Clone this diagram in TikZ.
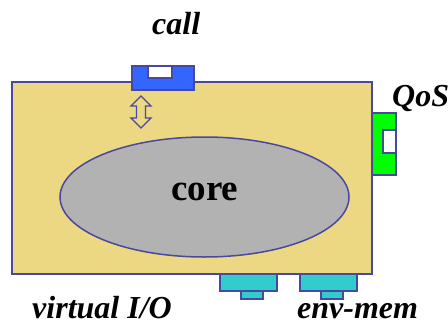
\documentclass[tikz,border=0pt]{standalone}
\usepackage{fontspec}
\setmainfont{Liberation Serif}
\definecolor{tan}{RGB}{236,216,130}
\definecolor{edge}{RGB}{72,72,160}
\definecolor{callblue}{RGB}{51,102,255}
\definecolor{qosgreen}{RGB}{0,255,0}
\definecolor{memcyan}{RGB}{51,204,204}
\definecolor{coregray}{RGB}{178,178,178}
\tikzset{
  part/.style={draw=edge, line width=1.5pt},
  lbl/.style={font=\fontsize{32}{32}\selectfont\bfseries\itshape, inner sep=0pt, anchor=base west},
}
\begin{document}
\begin{tikzpicture}[x=1pt,y=-1pt]
\useasboundingbox (0,0) rectangle (448,325);
% main box
\draw[part, fill=tan] (12,82) rectangle (372,274);
% core
\draw[part, fill=coregray] (204.5,197) ellipse [x radius=144.5, y radius=60];
\node[inner sep=0pt, anchor=base west, font=\fontsize{37}{37}\selectfont\bfseries] (core) at (171,200) {core};
% call interface
\draw[part, fill=callblue] (132,66) rectangle (194,90);
\draw[part, fill=white] (148,66) rectangle (172,78);
% double arrow
\draw[part, line width=1.3pt, fill=tan] (141,96) -- (151,106) -- (145.5,106) -- (145.5,118) -- (151,118) -- (141,128) -- (131,118) -- (136.5,118) -- (136.5,106) -- (131,106) -- cycle;
% QoS interface
\draw[part, fill=qosgreen] (372,113) rectangle (396,175);
\draw[part, fill=white] (383,130) rectangle (396,153);
% bottom interfaces
\draw[part, fill=memcyan] (220,274) rectangle (277,291);
\draw[part, fill=memcyan] (241,291) rectangle (263,299);
\draw[part, fill=memcyan] (300,274) rectangle (357,291);
\draw[part, fill=memcyan] (321,291) rectangle (343,299);
% labels
\node[lbl] (call) at (152,34) {call};
\node[lbl] (qos) at (392,106) {QoS};
\node[lbl] (vio) at (32,318) {virtual I/O};
\node[lbl] (env) at (297,318) {env-mem};
\end{tikzpicture}
\end{document}
